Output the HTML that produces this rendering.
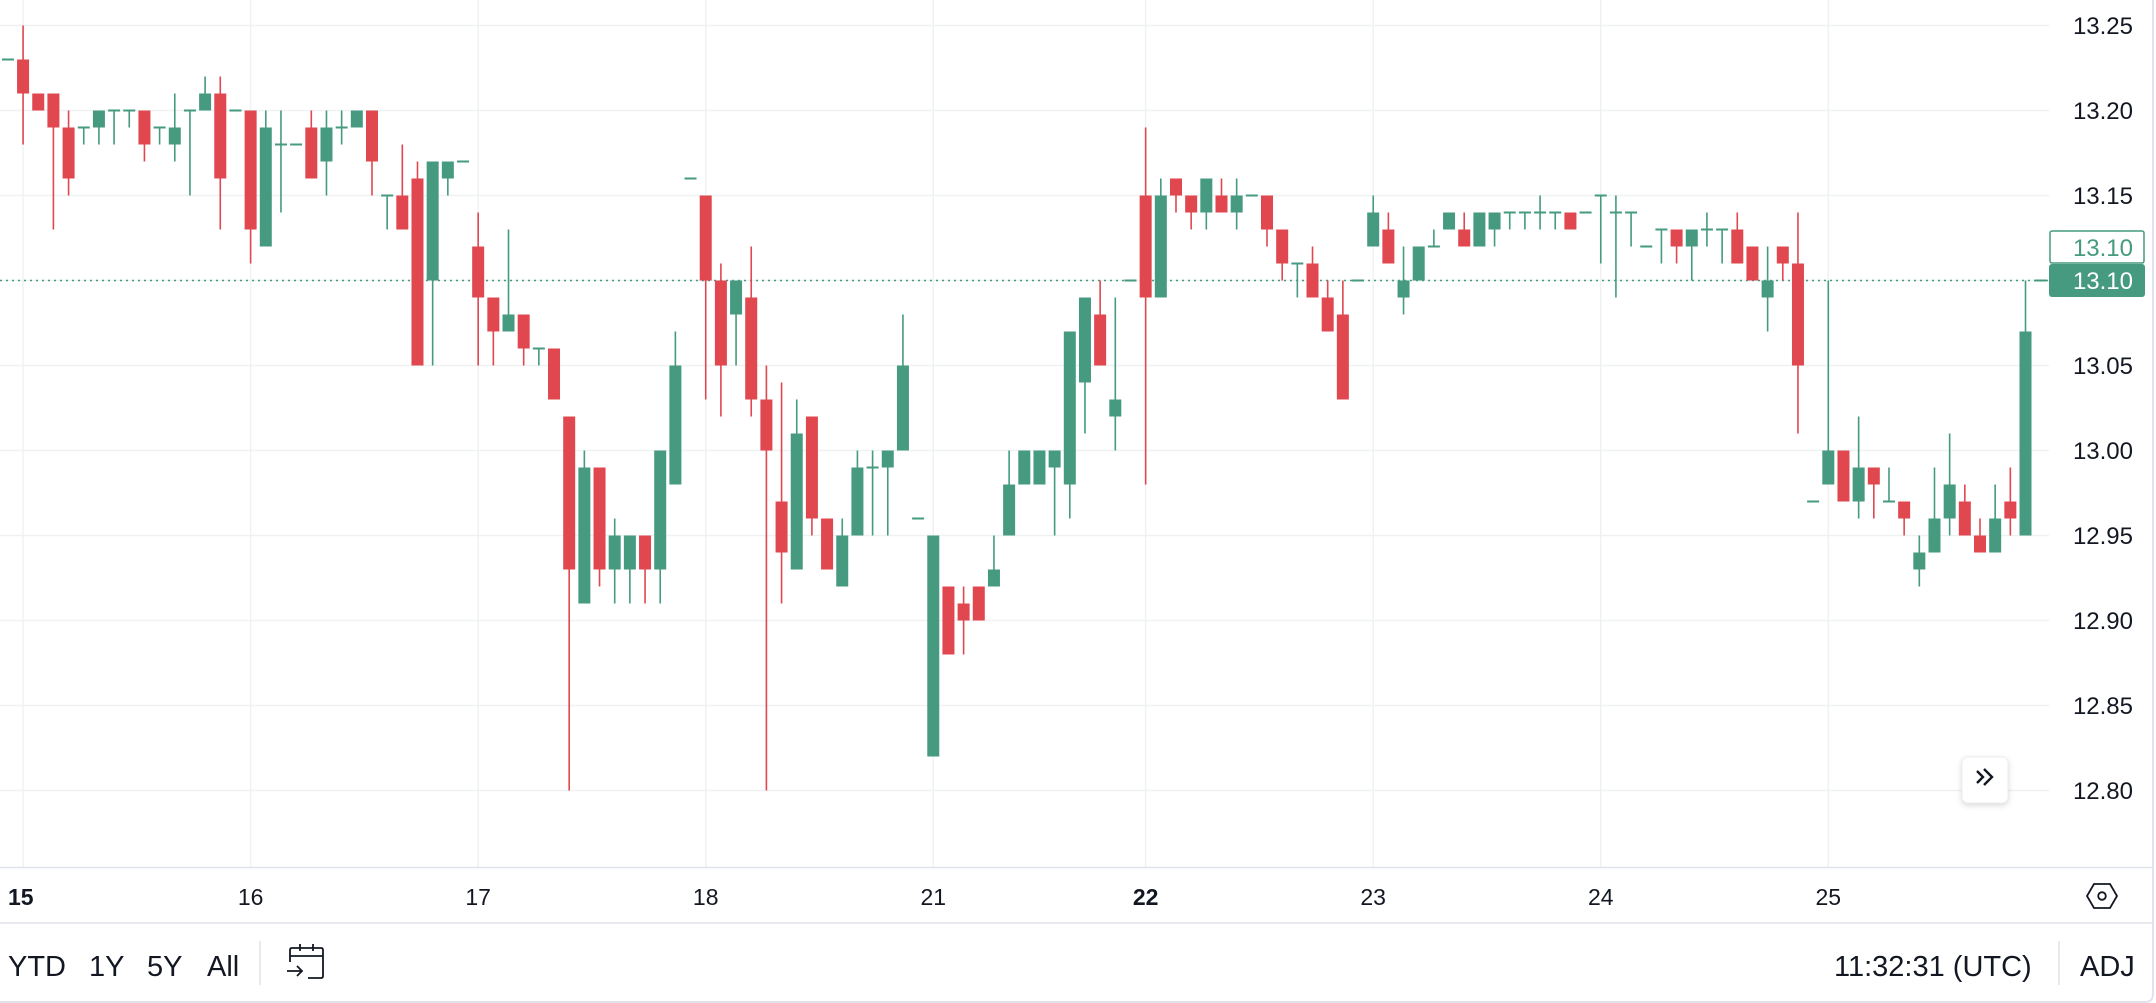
<!DOCTYPE html>
<html><head><meta charset="utf-8">
<style>
html,body{margin:0;padding:0;background:#fff;}
body{width:2156px;height:1003px;overflow:hidden;position:relative;font-family:"Liberation Sans",sans-serif;color:#131722;}
svg{position:absolute;left:0;top:0;}
.tb{position:absolute;font-size:29px;top:950px;line-height:34px;color:#131722;}
</style></head>
<body>
<svg id="chart" width="2156" height="1003" viewBox="0 0 2156 1003"></svg>
<div class="tb" style="left:8px">YTD</div>
<div class="tb" style="left:89px">1Y</div>
<div class="tb" style="left:147px">5Y</div>
<div class="tb" style="left:207px">All</div>
<div class="tb" style="left:1834px">11:32:31 (UTC)</div>
<div class="tb" style="left:2080px">ADJ</div>
<script>
const opens=[13.23,13.23,13.21,13.21,13.19,13.19,13.19,13.20,13.20,13.20,13.19,13.18,13.20,13.20,13.21,13.20,13.20,13.12,13.18,13.18,13.19,13.17,13.19,13.19,13.20,13.15,13.15,13.16,13.10,13.16,13.17,13.12,13.09,13.07,13.08,13.06,13.06,13.02,12.91,12.99,12.93,12.93,12.95,12.93,12.98,13.16,13.15,13.10,13.08,13.09,13.03,12.97,12.93,13.02,12.96,12.92,12.95,12.99,12.99,13.00,12.96,12.82,12.92,12.91,12.92,12.92,12.95,12.98,12.98,12.99,12.98,13.04,13.08,13.02,13.10,13.15,13.09,13.16,13.15,13.14,13.15,13.14,13.15,13.15,13.13,13.11,13.11,13.09,13.08,13.10,13.12,13.13,13.09,13.10,13.12,13.13,13.13,13.12,13.13,13.14,13.14,13.14,13.14,13.14,13.14,13.15,13.14,13.14,13.12,13.13,13.13,13.12,13.13,13.13,13.13,13.12,13.09,13.12,13.11,12.97,12.98,13.00,12.97,12.99,12.97,12.97,12.93,12.94,12.96,12.97,12.95,12.94,12.97,12.95,13.10];
const highs=[13.23,13.25,13.21,13.21,13.20,13.19,13.20,13.20,13.20,13.20,13.19,13.21,13.20,13.22,13.22,13.20,13.20,13.20,13.20,13.18,13.20,13.20,13.20,13.20,13.20,13.15,13.18,13.17,13.17,13.17,13.17,13.14,13.09,13.13,13.08,13.06,13.06,13.02,13.00,12.99,12.96,12.95,12.95,13.00,13.07,13.16,13.15,13.11,13.10,13.12,13.05,13.04,13.03,13.02,12.96,12.96,13.00,13.00,13.00,13.08,12.96,12.95,12.92,12.92,12.92,12.95,13.00,13.00,13.00,13.00,13.07,13.09,13.10,13.09,13.10,13.19,13.16,13.16,13.15,13.16,13.16,13.16,13.15,13.15,13.13,13.11,13.12,13.10,13.10,13.10,13.15,13.14,13.12,13.12,13.13,13.14,13.14,13.14,13.14,13.14,13.14,13.15,13.14,13.14,13.14,13.15,13.15,13.14,13.12,13.13,13.13,13.13,13.14,13.13,13.14,13.12,13.12,13.12,13.14,12.97,13.10,13.00,13.02,12.99,12.99,12.97,12.95,12.99,13.01,12.98,12.96,12.98,12.99,13.10,13.10];
const lows=[13.23,13.18,13.20,13.13,13.15,13.18,13.18,13.18,13.19,13.17,13.18,13.17,13.15,13.20,13.13,13.20,13.11,13.12,13.14,13.18,13.16,13.15,13.18,13.19,13.15,13.13,13.13,13.05,13.05,13.15,13.17,13.05,13.05,13.07,13.05,13.05,13.03,12.80,12.91,12.92,12.91,12.91,12.91,12.91,12.98,13.16,13.03,13.02,13.05,13.02,12.80,12.91,12.93,12.95,12.93,12.92,12.95,12.95,12.95,13.00,12.96,12.82,12.88,12.88,12.90,12.92,12.95,12.98,12.98,12.95,12.96,13.01,13.05,13.00,13.10,12.98,13.09,13.14,13.13,13.13,13.14,13.13,13.15,13.12,13.10,13.09,13.09,13.07,13.03,13.10,13.12,13.11,13.08,13.10,13.12,13.13,13.12,13.12,13.12,13.13,13.13,13.13,13.13,13.13,13.14,13.11,13.09,13.12,13.12,13.11,13.11,13.10,13.12,13.11,13.11,13.10,13.07,13.10,13.01,12.97,12.98,12.97,12.96,12.96,12.97,12.95,12.92,12.94,12.95,12.95,12.94,12.94,12.95,12.95,13.10];
const closes=[13.23,13.21,13.20,13.19,13.16,13.19,13.20,13.20,13.20,13.18,13.19,13.19,13.20,13.21,13.16,13.20,13.13,13.19,13.18,13.18,13.16,13.19,13.19,13.20,13.17,13.15,13.13,13.05,13.17,13.17,13.17,13.09,13.07,13.08,13.06,13.06,13.03,12.93,12.99,12.93,12.95,12.95,12.93,13.00,13.05,13.16,13.10,13.05,13.10,13.03,13.00,12.94,13.01,12.96,12.93,12.95,12.99,12.99,13.00,13.05,12.96,12.95,12.88,12.90,12.90,12.93,12.98,13.00,13.00,13.00,13.07,13.09,13.05,13.03,13.10,13.09,13.15,13.15,13.14,13.16,13.14,13.15,13.15,13.13,13.11,13.11,13.09,13.07,13.03,13.10,13.14,13.11,13.10,13.12,13.12,13.14,13.12,13.14,13.14,13.14,13.14,13.14,13.14,13.13,13.14,13.15,13.14,13.14,13.12,13.13,13.12,13.13,13.13,13.13,13.11,13.10,13.10,13.11,13.05,12.97,13.00,12.97,12.99,12.98,12.97,12.96,12.94,12.96,12.98,12.95,12.94,12.96,12.96,13.07,13.10];
const priceTicks=["13.25","13.20","13.15","13.10","13.05","13.00","12.95","12.90","12.85","12.80"];
const dayLabels=["15","16","17","18","21","22","23","24","25"];
const dayIndex=[1,16,31,46,61,75,90,105,120];
const lastPrice=13.10;

const NS="http://www.w3.org/2000/svg";
const svg=document.getElementById('chart');
const PLOT_R=2049, TOP=25.5, STEP=15.17, X0=7.9;
function y(p){return TOP+(13.25-p)/0.05*85;}
function x(i){return X0+i*STEP;}
function mk(tag,attrs,parent){const e=document.createElementNS(NS,tag);for(const k in attrs)e.setAttribute(k,attrs[k]);(parent||svg).appendChild(e);return e;}
const GREEN="#459a80",RED="#e0474f",GRID="#f0f1f3";

// horizontal grid + price labels
priceTicks.forEach(t=>{
  const yy=y(parseFloat(t));
  const g=mk('line',{x1:0,x2:PLOT_R,y1:yy,y2:yy,stroke:GRID,'stroke-width':1.5});
  
  
  const tx=mk('text',{x:2133,y:yy+8.5,'text-anchor':'end','font-size':24,fill:'#131722','font-family':'Liberation Sans, sans-serif'});
  tx.textContent=t;
  
  
});
// vertical grid + day labels
dayIndex.forEach((di,k)=>{
  const xx=x(di);
  const g=mk('line',{x1:xx,x2:xx,y1:0,y2:867,stroke:GRID,'stroke-width':1.5});
  
  
  const bold=(dayLabels[k]==="15"||dayLabels[k]==="22");
  const tx=mk('text',{x:k===0?8:xx,y:905,'text-anchor':k===0?'start':'middle','font-size':23,'font-weight':bold?'bold':'normal',fill:'#131722','font-family':'Liberation Sans, sans-serif'});
  tx.textContent=dayLabels[k];
  
  
});
// last price dotted line
const dl=mk('line',{x1:0,x2:PLOT_R,y1:y(lastPrice),y2:y(lastPrice),stroke:GREEN,'stroke-width':1.5,'stroke-dasharray':'2 4'});



// candles
opens.forEach((o,i)=>{
  const h=highs[i],l=lows[i],c=closes[i];
  const col=c>=o?GREEN:RED;
  const cx=x(i);
  const g=mk('g',{});
  
  
  mk('rect',{x:cx-0.8,y:y(h),width:1.6,height:Math.max(y(l)-y(h),0.1),fill:col},g);
  const top=y(Math.max(o,c)),bot=y(Math.min(o,c));
  if(o===c){mk('rect',{x:cx-6,y:top-1,width:12,height:2,fill:col},g);}
  else{mk('rect',{x:cx-6,y:top,width:12,height:Math.max(bot-top,2),fill:col},g);}
});

// axis borders
mk('line',{x1:0,x2:2153,y1:867.5,y2:867.5,stroke:'#e0e3eb','stroke-width':1.5});
mk('line',{x1:0,x2:2153,y1:923,y2:923,stroke:'#e0e3eb','stroke-width':1.5});
mk('line',{x1:0,x2:2146,y1:1002,y2:1002,stroke:'#e0e3eb','stroke-width':2});
mk('path',{d:'M2153 0 V994 Q2153 1002 2145 1002',fill:'none',stroke:'#e0e3eb','stroke-width':2});
mk('line',{x1:260,x2:260,y1:941,y2:985,stroke:'#e0e3eb','stroke-width':1.5});
mk('line',{x1:2059,x2:2059,y1:941,y2:985,stroke:'#e0e3eb','stroke-width':1.5});

// price label boxes
const ob=mk('g',{});


mk('rect',{x:2050,y:231,width:94,height:32,rx:2,fill:'#fff',stroke:GREEN,'stroke-width':1.5},ob);
const t1=mk('text',{x:2133,y:256,'text-anchor':'end','font-size':24,fill:GREEN,'font-family':'Liberation Sans, sans-serif'},ob);
t1.textContent=lastPrice.toFixed(2);
const lb=mk('g',{});


mk('rect',{x:2049,y:264,width:96,height:33,rx:3,fill:GREEN},lb);
const t2=mk('text',{x:2133,y:289,'text-anchor':'end','font-size':24,fill:'#fff','font-family':'Liberation Sans, sans-serif'},lb);
t2.textContent=lastPrice.toFixed(2);

// scroll button
const sb=mk('g',{});


mk('rect',{x:1962,y:757,width:46,height:46,rx:6,fill:'#fff',stroke:'#eceef2','stroke-width':1,style:'filter:drop-shadow(0 2px 3px rgba(0,0,0,0.15))'},sb);
mk('path',{d:'M1977 771 l6 6 l-6 6 M1984 769 l8 8 l-8 8',fill:'none',stroke:'#131722','stroke-width':2.4},sb);

// settings icon
const si=mk('g',{});


mk('path',{d:'M2094 884 L2110 884 L2117 896 L2110 908 L2094 908 L2087 896 Z',fill:'none',stroke:'#131722','stroke-width':1.8},si);
mk('circle',{cx:2102,cy:896,r:3.8,fill:'none',stroke:'#131722','stroke-width':1.8},si);

// calendar icon
const ci=mk('g',{});


mk('path',{d:'M290 962 V950 Q290 948 292 948 H321 Q323 948 323 950 V976 Q323 978 321 978 H308 M290 956 H323 M300 944 V951 M313 944 V951 M287 971 H302 M297 966 L302 971 L297 976',fill:'none',stroke:'#131722','stroke-width':1.8},ci);
</script>
</body></html>
